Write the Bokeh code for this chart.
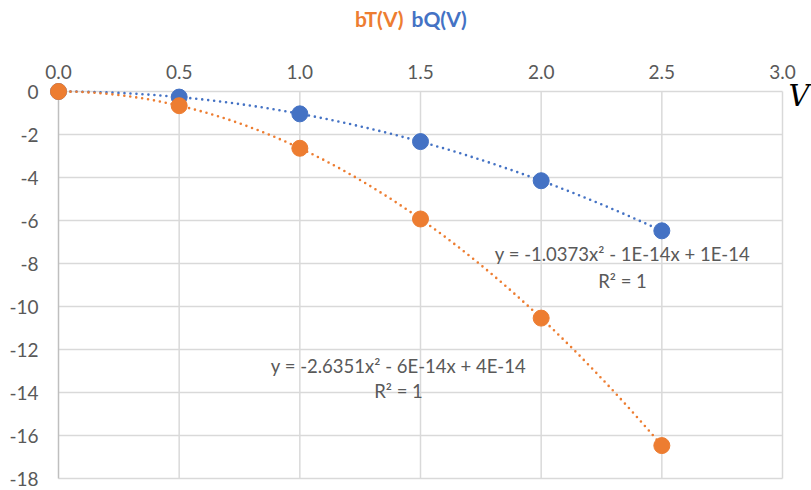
import numpy as np
from bokeh.plotting import figure
from bokeh.models import Label, FixedTicker, PrintfTickFormatter, LinearAxis
from bokeh.embed import file_html
from bokeh.resources import INLINE

# ---- data ----
v = [0.0, 0.5, 1.0, 1.5, 2.0, 2.5]
bT = [0.0, -0.66, -2.64, -5.93, -10.54, -16.47]
bQ = [0.0, -0.26, -1.04, -2.33, -4.15, -6.48]
# trendline coefficients (a x^2 + b x + c)
coef_T = [-2.6351, -6e-14, 4e-14]
coef_Q = [-1.0373, -1e-14, 1e-14]
eq_T = "y = -2.6351x² - 6E-14x + 4E-14"
eq_Q = "y = -1.0373x² - 1E-14x + 1E-14"
r2_text = "R² = 1"
x_ticks = [0.0, 0.5, 1.0, 1.5, 2.0, 2.5, 3.0]
y_ticks = [0, -2, -4, -6, -8, -10, -12, -14, -16, -18]

ORANGE = "#ED7D31"
BLUE = "#4472C4"
GRID = "#d9d9d9"
TXT = "#595959"
FONT = "Lato"

W, H = 811, 490
X0, X1 = 0.0, 3.0
Y0, Y1 = -18.0, 0.0
# plotting area in pixels: left 58, right 782, top 91, bottom 478
L, R, T, B = 58, 782, 91, 478
kx = (X1 - X0) / (R - L)
ky = (Y1 - Y0) / (B - T)
xr = (X0 - L * kx, X1 + (W - R) * kx)
yr = (Y0 - (H - B) * ky, Y1 + T * ky)

p = figure(width=W, height=H, x_range=xr, y_range=yr,
           x_axis_location=None, y_axis_location=None,
           output_backend="svg", toolbar_location=None,
           min_border=0, min_border_left=0, min_border_right=0,
           min_border_top=0, min_border_bottom=0)
p.outline_line_color = None
p.background_fill_color = "white"
p.border_fill_color = "white"
p.xgrid.grid_line_color = None
p.ygrid.grid_line_color = None

xaxis = LinearAxis(fixed_location=Y1, bounds=(X0, X1),
                   ticker=FixedTicker(ticks=x_ticks),
                   formatter=PrintfTickFormatter(format="%.1f"))
yaxis = LinearAxis(fixed_location=X0, bounds=(Y0, Y1),
                   ticker=FixedTicker(ticks=y_ticks),
                   formatter=PrintfTickFormatter(format="%d"))
for ax in (xaxis, yaxis):
    ax.major_tick_line_color = None
    ax.minor_tick_line_color = None
    ax.major_tick_out = 0
    ax.major_tick_in = 0
    ax.axis_line_color = None
    ax.major_label_text_font = FONT
    ax.major_label_text_font_size = "19px"
    ax.major_label_text_color = TXT
xaxis.major_label_standoff = 13
yaxis.major_label_standoff = 20
p.add_layout(xaxis, "above")
p.add_layout(yaxis, "left")

# gridlines drawn within the plotting area only
p.segment(x0=[X0] * len(y_ticks), x1=[X1] * len(y_ticks), y0=y_ticks, y1=y_ticks,
          line_color=GRID, line_width=1.5)
xg = x_ticks[1:]
p.segment(x0=xg, x1=xg, y0=[Y0] * len(xg), y1=[Y1] * len(xg),
          line_color=GRID, line_width=1.5)
# vertical axis line
p.segment(x0=[X0], x1=[X0], y0=[Y0], y1=[Y1], line_color="#bfbfbf", line_width=1.5)

# trendlines
xs = np.linspace(0, 2.5, 200)
yQ = np.polyval(coef_Q, xs)
yT = np.polyval(coef_T, xs)
p.line(xs, yQ, line_color=BLUE, line_width=2.6, line_dash="0 6", line_cap="round")
p.line(xs, yT, line_color=ORANGE, line_width=2.6, line_dash="0 6", line_cap="round")

# markers
p.scatter(v, bQ, size=16, fill_color=BLUE, line_color=BLUE)
p.scatter(v, bT, size=16, fill_color=ORANGE, line_color=ORANGE)

def lab(x, y, text, color=TXT, align="center", size="18.5px", style="normal",
        font=FONT, xoff=0):
    p.add_layout(Label(x=x, y=y, text=text, text_color=color, text_align=align,
                       text_baseline="middle", text_font=font,
                       text_font_size=size, text_font_style=style, x_offset=xoff))

def px(sx, sy):
    return xr[0] + sx * kx, yr[1] - sy * ky

# equations
lab(*px(622, 253), eq_Q)
lab(*px(622, 280), r2_text)
lab(*px(398, 365), eq_T)
lab(*px(398, 390), r2_text)

# title
lab(*px(407, 18), "bT(V)", color=ORANGE, align="right", size="21px",
    style="bold", xoff=-4)
lab(*px(407, 18), "bQ(V)", color=BLUE, align="left", size="21px",
    style="bold", xoff=4)

# axis name
lab(*px(809, 95), "V", color="black", align="right", size="29px",
    style="italic", font="DejaVu Serif")

open("out.html", "w").write(file_html(p, INLINE))
